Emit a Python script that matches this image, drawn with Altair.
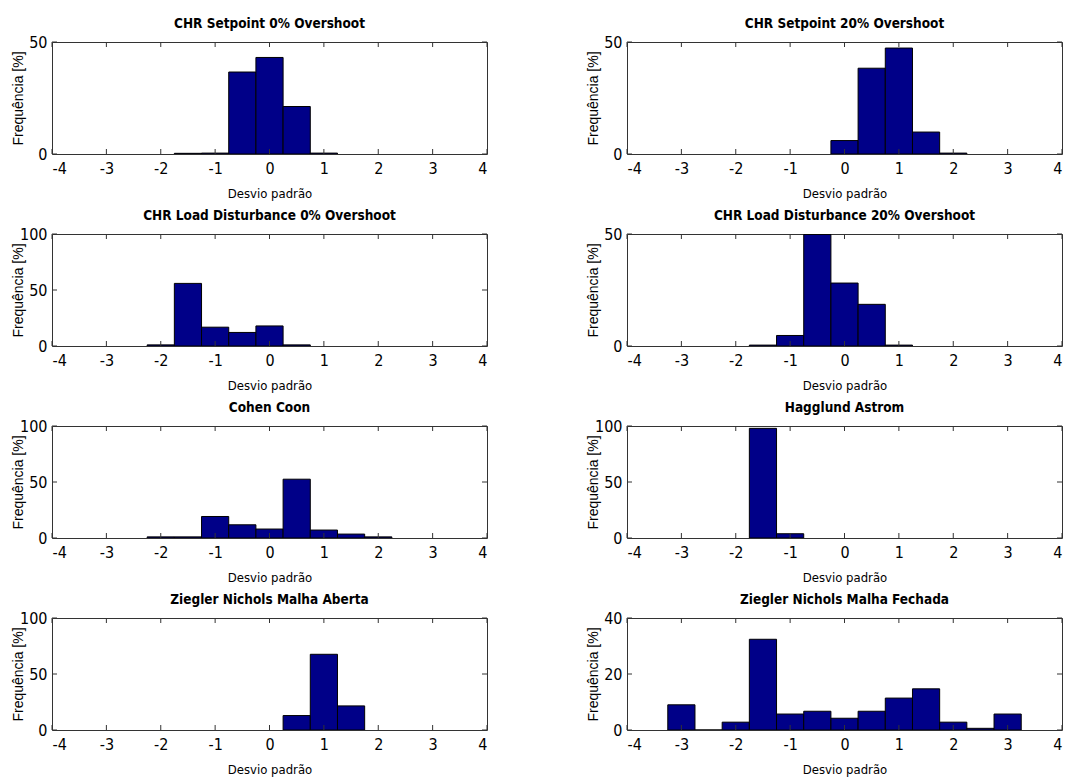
import altair as alt
import pandas as pd

# ---------------- data ----------------
titles = [
    "CHR Setpoint 0% Overshoot",
    "CHR Setpoint 20% Overshoot",
    "CHR Load Disturbance 0% Overshoot",
    "CHR Load Disturbance 20% Overshoot",
    "Cohen Coon",
    "Hagglund Astrom",
    "Ziegler Nichols Malha Aberta",
    "Ziegler Nichols Malha Fechada",
]

centers_sp0 = [-1.5, -1.0, -0.5, 0.0, 0.5, 1.0]
freq_sp0 = [0.3, 0.4, 36.6, 43.1, 21.2, 0.4]

centers_sp20 = [0.0, 0.5, 1.0, 1.5, 2.0]
freq_sp20 = [6.0, 38.3, 47.3, 9.8, 0.4]

centers_ld0 = [-2.0, -1.5, -1.0, -0.5, 0.0, 0.5]
freq_ld0 = [1.0, 55.9, 16.8, 12.1, 17.9, 1.0]

centers_ld20 = [-1.5, -1.0, -0.5, 0.0, 0.5, 1.0]
freq_ld20 = [0.4, 4.7, 49.8, 28.1, 18.6, 0.4]

centers_cc = [-2.0, -1.5, -1.0, -0.5, 0.0, 0.5, 1.0, 1.5, 2.0]
freq_cc = [1.0, 1.0, 19.2, 11.8, 8.0, 52.5, 7.1, 3.5, 1.0]

centers_ha = [-1.5, -1.0]
freq_ha = [97.9, 3.8]

centers_zna = [0.5, 1.0, 1.5]
freq_zna = [12.9, 67.6, 21.5]

centers_znf = [-3.0, -2.5, -2.0, -1.5, -1.0, -0.5, 0.0, 0.5, 1.0, 1.5, 2.0, 2.5, 3.0]
freq_znf = [9.0, 0.0, 2.8, 32.4, 5.7, 6.7, 4.2, 6.7, 11.4, 14.7, 2.8, 0.6, 5.7]

y_max = [50, 50, 100, 50, 100, 100, 100, 40]
y_ticks = [[0, 50], [0, 50], [0, 50, 100], [0, 50], [0, 50, 100], [0, 50, 100], [0, 50, 100], [0, 20, 40]]
x_ticks = [-4, -3, -2, -1, 0, 1, 2, 3, 4]
bin_width = 0.5

centers_all = [centers_sp0, centers_sp20, centers_ld0, centers_ld20, centers_cc, centers_ha, centers_zna, centers_znf]
freq_all = [freq_sp0, freq_sp20, freq_ld0, freq_ld20, freq_cc, freq_ha, freq_zna, freq_znf]

# ---------------- style ----------------
NAVY = "#000088"
FRAME = "#333333"
NARROW = "DejaVu Sans Condensed, sans-serif"
SANS = "Liberation Sans, Arial, sans-serif"
W, H = 435, 112
TICK = 5


def panel(title, centers, freqs, ymax, yticks):
    df = pd.DataFrame({
        "x0": [c - bin_width / 2 for c in centers],
        "x1": [c + bin_width / 2 for c in centers],
        "f": freqs,
    })
    xs = alt.Scale(domain=[-4, 4], nice=False, zero=False)
    ys = alt.Scale(domain=[0, ymax], nice=False, zero=True)
    xax = alt.Axis(values=x_ticks, title="Desvio padrão", labelExpr="'' + datum.value")
    yax = alt.Axis(values=yticks, title="Frequência [%]", labelExpr="'' + datum.value")
    bars = alt.Chart(df).mark_rect(fill=NAVY, stroke="black", strokeWidth=1, clip=True).encode(
        x=alt.X("x0:Q", scale=xs, axis=xax),
        x2="x1:Q",
        y=alt.Y("f:Q", scale=ys, axis=yax),
        y2=alt.datum(0),
    )
    xt = pd.DataFrame({"t": x_ticks})
    yt = pd.DataFrame({"v": yticks})
    top = alt.Chart(xt).mark_rule(color=FRAME, strokeWidth=1).encode(
        x=alt.X("t:Q", scale=xs, axis=xax), y=alt.value(0), y2=alt.value(TICK))
    bot = alt.Chart(xt).mark_rule(color=FRAME, strokeWidth=1).encode(
        x=alt.X("t:Q", scale=xs, axis=xax), y=alt.value(H), y2=alt.value(H - TICK))
    left = alt.Chart(yt).mark_rule(color=FRAME, strokeWidth=1).encode(
        y=alt.Y("v:Q", scale=ys, axis=yax), x=alt.value(0), x2=alt.value(TICK))
    right = alt.Chart(yt).mark_rule(color=FRAME, strokeWidth=1).encode(
        y=alt.Y("v:Q", scale=ys, axis=yax), x=alt.value(W), x2=alt.value(W - TICK))
    return alt.layer(bars, top, bot, left, right).properties(
        width=W, height=H,
        title=alt.TitleParams(title, font=NARROW, fontSize=13.5, fontWeight="bold",
                              offset=4, frame="group", anchor="middle", color="black"),
    )


panels = [panel(titles[i], centers_all[i], freq_all[i], y_max[i], y_ticks[i]) for i in range(8)]
rows = [alt.hconcat(panels[2 * r], panels[2 * r + 1], spacing=97) for r in range(4)]

chart = alt.vconcat(*rows, spacing=7).properties(
    padding={"left": 10, "top": 16, "right": 0, "bottom": 0},
    background="white",
).configure_view(
    stroke=FRAME, strokeWidth=1
).configure_axis(
    domain=False, ticks=False, tickSize=0, grid=False,
    labelFont=NARROW, labelFontSize=16, labelColor="black",
    titleColor="black", titleFontWeight="normal",
).configure_axisX(
    labelPadding=6, titlePadding=11, titleFont=NARROW, titleFontSize=13,
).configure_axisY(
    labelPadding=5, titlePadding=1, minExtent=26, maxExtent=26,
    titleFont=SANS, titleFontSize=14,
)

chart.save("out.html", embed_options={"renderer": "svg", "actions": False})
